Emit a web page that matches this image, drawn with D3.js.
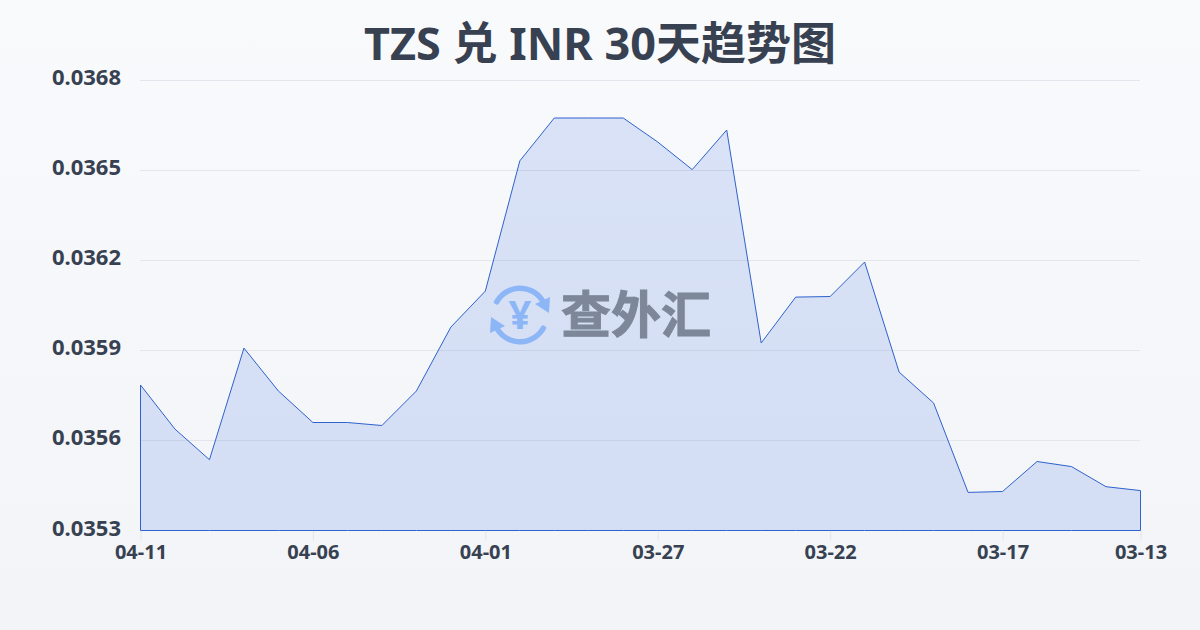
<!DOCTYPE html>
<html><head><meta charset="utf-8">
<script src="https://cdn.jsdelivr.net/npm/d3@7/dist/d3.min.js"></script>
<style>html,body{margin:0;padding:0;width:1200px;height:630px;overflow:hidden}svg{display:block}</style>
</head><body><svg id="c" width="1200" height="630"></svg>
<script>
const titleText = "TZS 兑 INR 30天趋势图";
const watermarkText = "查外汇";
const dates = ["04-11","04-10","04-09","04-08","04-07","04-06","04-05","04-04","04-03","04-02","04-01","03-31","03-30","03-29","03-28","03-27","03-26","03-25","03-24","03-23","03-22","03-21","03-20","03-19","03-18","03-17","03-16","03-15","03-14","03-13"];
const rates = [0.035785,0.035638,0.035536,0.035908,0.035765,0.03566,0.03566,0.03565,0.035765,0.035978,0.036098,0.036532,0.036675,0.036675,0.036675,0.036595,0.036503,0.036635,0.035925,0.036078,0.03608,0.036195,0.035828,0.035725,0.035427,0.03543,0.03553,0.035513,0.035446,0.035433];
const yTicks = [0.0353,0.0356,0.0359,0.0362,0.0365,0.0368];
const xTicks = ["04-11","04-06","04-01","03-27","03-22","03-17","03-13"];

const svg = d3.select("#c");
const FONT = "'Noto Sans','Noto Sans CJK SC',sans-serif";
const defs = svg.append("defs");
const bg = defs.append("linearGradient").attr("id","bg").attr("x1",0).attr("y1",0).attr("x2",0).attr("y2",1);
bg.append("stop").attr("offset",0).attr("stop-color","#f9fafc");
bg.append("stop").attr("offset",1).attr("stop-color","#f2f4f7");
svg.append("rect").attr("width",1200).attr("height",630).attr("fill","url(#bg)");

const x = d3.scalePoint().domain(dates).range([140.5,1140.5]);
const y = d3.scaleLinear().domain([0.0353,0.0368]).range([530.5,80.5]);

// grid
svg.append("g").selectAll("line").data(yTicks.slice(1)).join("line")
  .attr("x1",140).attr("x2",1140).attr("y1",d=>y(d)).attr("y2",d=>y(d))
  .attr("stroke","#e3e6ea").attr("stroke-width",1);

// y axis
const ya = svg.append("g").attr("transform","translate(140,0)")
  .call(d3.axisLeft(y).tickValues(yTicks).tickFormat(d3.format(".4f")).tickSize(0).tickPadding(19));
ya.select(".domain").remove();
ya.selectAll("text").attr("font-family",FONT).attr("font-size",22).attr("font-weight",700).attr("fill","#374151").attr("dy","0.2em");
ya.selectAll(".tick").filter(d=>d===0.0353).select("text").attr("dy","0.24em");

// x axis
const xa = svg.append("g").attr("transform","translate(0,530.5)")
  .call(d3.axisBottom(x).tickValues(xTicks).tickSize(10).tickPadding(4));
xa.select(".domain").remove();
xa.selectAll("line").attr("stroke","#e3e6ea");
xa.selectAll("text").attr("font-family",FONT).attr("font-size",20).attr("font-weight",700).attr("fill","#374151");

// area
const area = d3.area().x(d=>x(d.date)).y0(y(0.0353)).y1(d=>y(d.rate));
const pts = dates.map((date,i)=>({date,rate:rates[i]}));
svg.append("path").datum(pts).attr("d",d=>area(d)+"Z")
  .attr("fill","rgba(35,90,220,0.145)").attr("stroke","#2f62cc").attr("stroke-width",1).attr("stroke-linejoin","round");

// watermark
const wm = svg.append("g").attr("transform","translate(520,315)");
const r = 24;
const arc = d3.arc().innerRadius(r).outerRadius(r+5.5).cornerRadius(2);
const blue = "#8db6f7";
wm.append("path").attr("d",arc({startAngle:-1.15,endAngle:1.05})).attr("fill",blue);
wm.append("path").attr("d",arc({startAngle:1.99,endAngle:4.2})).attr("fill",blue);
wm.append("path").attr("d",d3.line()([[29,-2],[30,-18],[15,-11]])+"Z").attr("fill",blue);
wm.append("path").attr("d",d3.line()([[-29,2],[-30,18],[-15,11]])+"Z").attr("fill",blue);
wm.append("text").attr("text-anchor","middle").attr("y",14).attr("font-family",FONT).attr("font-size",40).attr("font-weight",700).attr("fill",blue).text("¥");
svg.append("text").attr("x",636).attr("y",333).attr("text-anchor","middle").attr("font-family",FONT)
  .attr("font-size",50).attr("font-weight",700).attr("fill","#7d8799").attr("stroke","#7d8799").attr("stroke-width",1).text(watermarkText);

// title
svg.append("text").attr("x",600).attr("y",60).attr("text-anchor","middle").attr("font-family",FONT)
  .attr("font-size",45).attr("font-weight",700).attr("fill","#374151").text(titleText);
</script></body></html>
